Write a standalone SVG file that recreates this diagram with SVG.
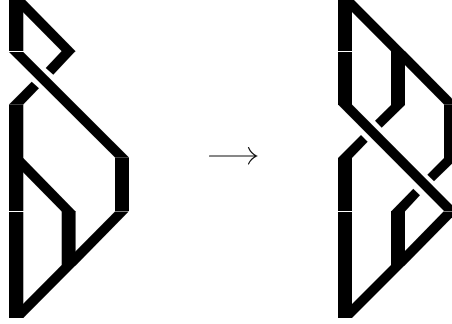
<svg xmlns="http://www.w3.org/2000/svg" width="452" height="324" viewBox="0 0 452 324">
<style>
polygon{fill:#000}
.arrow{fill:none;stroke:#111;stroke-width:1.2;stroke-linecap:round}
</style>
<rect width="452" height="324" fill="#fff"/>
<g id="left-braid">
<polygon points="9,-2 23.300,-2 23.300,51 9,51"/>
<polygon points="9,-2 23.300,-2 75.600,51.300 61.700,51.300"/>
<polygon points="9,52 23.300,52 129,157.500 115,157.500"/>
<polygon points="61.700,51 75.600,51 53.300,74.700 45.700,68"/>
<polygon points="31.700,81.700 39,88.300 23.300,104.500 9,104.500"/>
<polygon points="9,104.500 23.300,104.500 23.300,211 9,211"/>
<polygon points="9,158 23.300,158 75.600,211.400 61.700,211.400"/>
<polygon points="115,157.500 129,157.500 129,211 115,211"/>
<polygon points="9,212 23.300,212 23.300,318 9,318"/>
<polygon points="61.700,211 75.600,211 75.600,265.300 61.700,265.300"/>
<polygon points="115,211.400 128.700,211.400 76,265.300 61.700,265.300"/>
<polygon points="61.700,265 76,265 23.300,318 9,318"/>
</g>
<g id="arrow">
<path class="arrow" d="M209.500,156H256.500M248.500,147.500Q251,153.500 256.500,156Q251,158.500 248.500,164"/>
</g>
<g id="right-braid">
<polygon points="338,-2 352,-2 352,51 338,51"/>
<polygon points="338,-2 352,-2 405,51.300 391,51.300"/>
<polygon points="338,52 352,52 352,105 338,105"/>
<polygon points="391,51 405,51 405,105 391,105"/>
<polygon points="391,51 405,51 458,104.500 444,104.500"/>
<polygon points="444,104.500 458,104.500 458,158 444,158"/>
<polygon points="338,104.500 352,104.500 458,211 444,211"/>
<polygon points="391,105 405,105 381.700,127.700 375,120.700"/>
<polygon points="361,135 367.700,141.700 352,158 338,158"/>
<polygon points="338,158 352,158 352,211 338,211"/>
<polygon points="444,158 458,158 434,181.300 427.300,174.700"/>
<polygon points="413.300,188.700 420,195.300 405,211.400 391,211.400"/>
<polygon points="338,212 352,212 352,318 338,318"/>
<polygon points="391,211 405,211 405,265.300 391,265.300"/>
<polygon points="443.500,211.400 458,211.400 405,265.300 391,265.300"/>
<polygon points="391,265 405,265 352,318 338,318"/>
</g>
</svg>
